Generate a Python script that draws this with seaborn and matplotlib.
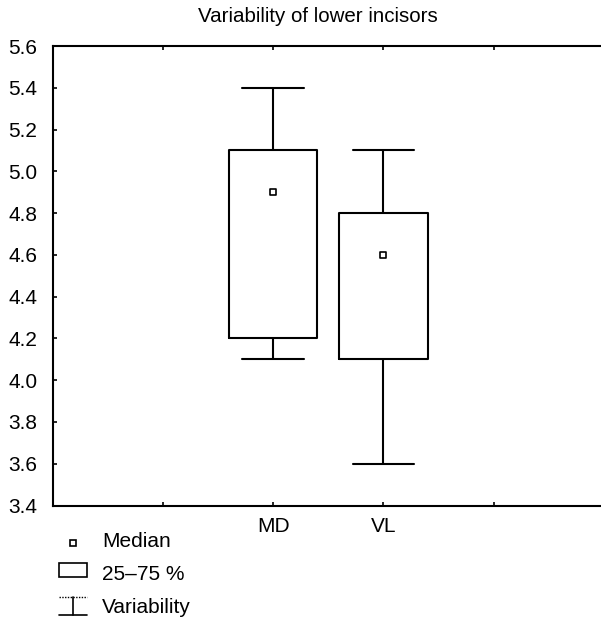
import matplotlib
matplotlib.use("Agg")
import matplotlib.pyplot as plt
from matplotlib.lines import Line2D
from matplotlib.patches import Rectangle
import numpy as np
import pandas as pd
import seaborn as sns

# ---- data (five-number summaries) ----
categories = ["MD", "VL"]
md_values = [4.1, 4.2, 4.9, 5.1, 5.4]   # min, q1, median, q3, max
vl_values = [3.6, 4.1, 4.6, 4.8, 5.1]
medians = [4.9, 4.6]
y_ticks = [3.4, 3.6, 3.8, 4.0, 4.2, 4.4, 4.6, 4.8, 5.0, 5.2, 5.4, 5.6]
x_tick_labels = ["", "MD", "VL", ""]
title = "Variability of lower incisors"
legend_labels = ["Median", "25\u201375 %", "Variability"]

df = pd.DataFrame({
    "group": ["MD"] * len(md_values) + ["VL"] * len(vl_values),
    "value": md_values + vl_values,
})
med_df = pd.DataFrame({"group": categories, "value": medians})

sns.set_style("white")
plt.rcParams["font.family"] = ["Liberation Sans", "DejaVu Sans"]
plt.rcParams["axes.linewidth"] = 1.5
plt.rcParams["text.color"] = "black"
plt.rcParams["axes.labelcolor"] = "black"
plt.rcParams["xtick.color"] = "black"
plt.rcParams["ytick.color"] = "black"

W, H = 601, 626
fig = plt.figure(figsize=(W / 100, H / 100), dpi=100)
left, right, top, bottom = 52.7, 604.0, 46.0, 505.5
ax = fig.add_axes([left / W, 1 - bottom / H, (right - left) / W, (bottom - top) / H])

sns.boxplot(data=df, x="group", y="value", order=categories, ax=ax,
            whis=(0, 100), width=0.8, fill=False, color="black",
            linecolor="black", linewidth=1.5, showfliers=False,
            medianprops={"visible": False}, capwidths=0.56)
sns.scatterplot(data=med_df, x="group", y="value", ax=ax, marker="s",
                s=22, facecolor="white", edgecolor="black", linewidth=1.2,
                zorder=5, legend=False)

ax.set_xlim(-2, 3)
ax.set_ylim(3.4, 5.6)
ax.set_xticks([-1, 0, 1, 2])
ax.set_xticklabels(x_tick_labels, fontsize=15, color="black")
ax.set_yticks(y_ticks)
ax.set_yticklabels([f"{v:.1f}" for v in y_ticks], fontsize=15, color="black")
ax.tick_params(axis="both", direction="in", length=3, width=1.2,
               top=True, bottom=True, left=True, right=False, colors="black")
ax.tick_params(axis="x", pad=8)
ax.tick_params(axis="y", pad=11)
ax.set_xlabel("")
ax.set_ylabel("")
for s in ["left", "bottom", "top"]:
    ax.spines[s].set_visible(True)
    ax.spines[s].set_color("black")
ax.spines["right"].set_visible(False)

ax.set_title(title, fontsize=14.8, pad=17, x=0.481, color="black")

# ---- legend drawn below the axes ----
def fx(x):
    return x / W

def fy(y):
    return 1 - y / H

tr = fig.transFigure
fig.add_artist(Line2D([fx(73)], [fy(543)], marker="s", markersize=5,
                      markerfacecolor="white", markeredgecolor="black",
                      markeredgewidth=1.2, linestyle="none", transform=tr))
fig.add_artist(Rectangle((fx(59), fy(577)), fx(87) - fx(59), fy(563) - fy(577),
                         facecolor="white", edgecolor="black", linewidth=1.2,
                         transform=tr))
fig.add_artist(Line2D([fx(59), fx(87)], [fy(597), fy(597)], color="black",
                      linewidth=1.0, linestyle=(0, (1, 1)), transform=tr))
fig.add_artist(Line2D([fx(73), fx(73)], [fy(597), fy(615)], color="black",
                      linewidth=1.2, transform=tr))
fig.add_artist(Line2D([fx(59), fx(87)], [fy(615), fy(615)], color="black",
                      linewidth=1.2, transform=tr))
for lbl, yb in zip(legend_labels, [547, 580, 613]):
    fig.text(fx(102), fy(yb), lbl, fontsize=15, ha="left", va="baseline",
             color="black")

fig.savefig("out.png", dpi=100)
